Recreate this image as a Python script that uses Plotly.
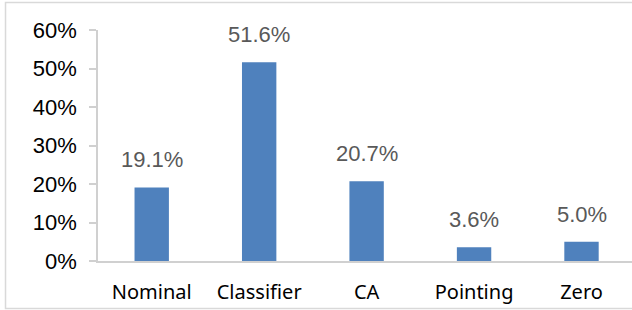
import plotly.graph_objects as go

categories = ["Nominal", "Classifier", "CA", "Pointing", "Zero"]
values = [19.1, 51.6, 20.7, 3.6, 5.0]
labels = ["19.1%", "51.6%", "20.7%", "3.6%", "5.0%"]
y_ticks = [0, 10, 20, 30, 40, 50, 60]
y_tick_labels = ["0%", "10%", "20%", "30%", "40%", "50%", "60%"]

fig = go.Figure()
fig.add_trace(go.Bar(
    x=categories, y=values,
    marker=dict(color="#4F81BD", line=dict(width=0)),
    width=0.32,
    hoverinfo="skip",
))

for c, v, t in zip(categories, values, labels):
    fig.add_annotation(
        x=c, y=v, text=t, showarrow=False,
        yanchor="bottom", yshift=13,
        font=dict(family="Liberation Sans, Arial", size=22, color="#595959"),
    )

# outer chart border
fig.add_shape(type="rect", xref="paper", yref="paper",
              x0=-0.1732, x1=1.02, y0=-0.2056, y1=1.119,
              line=dict(color="#D9D9D9", width=1.5), layer="below")

fig.update_layout(
    width=632, height=310,
    margin=dict(l=98, r=0, t=30, b=49),
    paper_bgcolor="white", plot_bgcolor="white",
    showlegend=False,
    xaxis=dict(
        range=[-0.5, 4.47],
        showgrid=False, zeroline=False,
        showline=True, linecolor="#D0D0D0", linewidth=2,
        ticks="", ticklabelstandoff=12,
        tickfont=dict(family="Noto Sans", size=20, color="#000000"),
        fixedrange=True,
    ),
    yaxis=dict(
        range=[0, 60],
        tickvals=y_ticks, ticktext=y_tick_labels,
        showgrid=False, zeroline=False,
        showline=True, linecolor="#D0D0D0", linewidth=1.5,
        ticks="outside", ticklen=7, tickcolor="#D0D0D0", tickwidth=1.5,
        ticklabelstandoff=8,
        tickfont=dict(family="Liberation Sans, Arial", size=22, color="#000000"),
        fixedrange=True,
    ),
)

fig.write_html(
    "out.html",
    config={"displayModeBar": False},
    post_script="document.body.style.margin='0';document.body.style.overflow='hidden';",
)
